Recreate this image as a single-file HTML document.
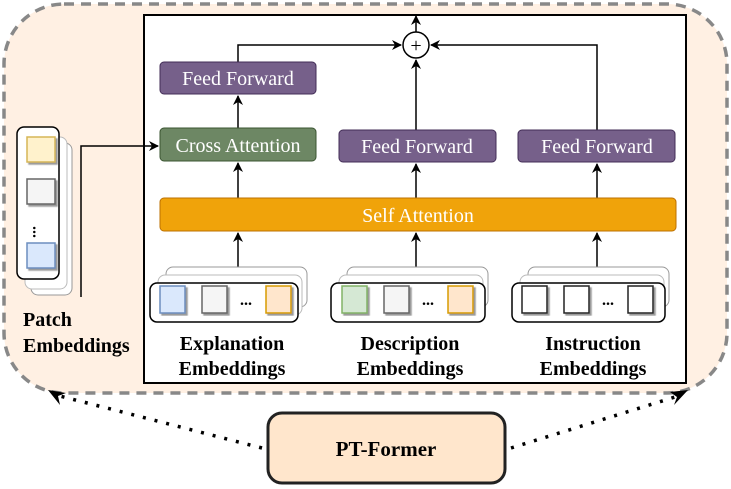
<!DOCTYPE html>
<html><head><style>body{margin:0;background:#fff}svg{display:block}text{font-family:"Liberation Serif",serif}</style></head><body>
<svg width="731" height="489" viewBox="0 0 731 489" xmlns="http://www.w3.org/2000/svg">
<defs>
<marker id="a" markerWidth="10" markerHeight="10" refX="9" refY="5" orient="auto" markerUnits="userSpaceOnUse"><path d="M0,0 L10,5 L0,10 L3,5Z" fill="#000"/></marker>
<filter id="s"><feDropShadow dx="2" dy="2" stdDeviation="0.5" flood-color="#999"/></filter>
</defs>
<rect x="4" y="4" width="723" height="389" rx="60" fill="#fff0e3" stroke="#888" stroke-width="3.5" stroke-dasharray="10,7"/>
<rect x="144" y="15" width="542" height="368" fill="#fff" stroke="#000" stroke-width="2"/>
<g stroke="#000" stroke-width="1.5" fill="none">
<path d="M238,62 V45 H401" marker-end="url(#a)"/>
<path d="M597,130 V45 H431" marker-end="url(#a)"/>
<path d="M416,130 V60" marker-end="url(#a)"/>
<path d="M416,32 V16" marker-end="url(#a)"/>
<path d="M238,128 V96" marker-end="url(#a)"/>
<path d="M238,198 V163" marker-end="url(#a)"/>
<path d="M416,198 V164" marker-end="url(#a)"/>
<path d="M597,198 V164" marker-end="url(#a)"/>
<path d="M238,268 V233" marker-end="url(#a)"/>
<path d="M416,268 V233" marker-end="url(#a)"/>
<path d="M597,268 V233" marker-end="url(#a)"/>
<path d="M81,297 V146 H158" marker-end="url(#a)"/>
</g>
<circle cx="416" cy="45" r="13" fill="#fff" stroke="#000" stroke-width="1.5"/>
<text x="416" y="52" font-size="20" text-anchor="middle">+</text>
<g font-size="20" fill="#fff" text-anchor="middle">
<rect x="160" y="62" width="156" height="32" rx="4" fill="#76608a" stroke="#432d57"/><text x="238" y="85">Feed Forward</text>
<rect x="160" y="128" width="156" height="33" rx="4" fill="#6d8764" stroke="#3a5431"/><text x="238" y="152">Cross Attention</text>
<rect x="339" y="130" width="157" height="32" rx="4" fill="#76608a" stroke="#432d57"/><text x="417" y="153">Feed Forward</text>
<rect x="518" y="130" width="157" height="32" rx="4" fill="#76608a" stroke="#432d57"/><text x="597" y="153">Feed Forward</text>
<rect x="160" y="198" width="516" height="33" rx="4" fill="#f0a30a" stroke="#bd7000"/><text x="418" y="222">Self Attention</text>
</g>
<rect x="166" y="267" width="141" height="40" rx="7" fill="#fff" stroke="#999"/>
<rect x="158" y="275" width="144" height="40" rx="7" fill="#fff" stroke="#bbb"/>
<rect x="150" y="283" width="148" height="39" rx="7" fill="#fff" stroke="#000" stroke-width="1.5"/>
<g stroke-width="1.5" filter="url(#s)">
<rect x="160" y="286" width="25" height="27" fill="#dae8fc" stroke="#6c8ebf"/>
<rect x="202" y="286" width="25" height="27" fill="#f5f5f5" stroke="#666"/>
<rect x="266" y="286" width="25" height="27" fill="#ffe6cc" stroke="#d79b00"/>
</g>
<text x="246" y="305" font-size="16" font-weight="bold" text-anchor="middle">...</text>
<rect x="347" y="267" width="141" height="40" rx="7" fill="#fff" stroke="#999"/>
<rect x="339" y="275" width="144" height="40" rx="7" fill="#fff" stroke="#bbb"/>
<rect x="331" y="283" width="154" height="39" rx="7" fill="#fff" stroke="#000" stroke-width="1.5"/>
<g stroke-width="1.5" filter="url(#s)">
<rect x="342" y="286" width="25" height="27" fill="#d5e8d4" stroke="#82b366"/>
<rect x="384" y="286" width="25" height="27" fill="#f5f5f5" stroke="#666"/>
<rect x="448" y="286" width="25" height="27" fill="#ffe6cc" stroke="#d79b00"/>
</g>
<text x="428" y="305" font-size="16" font-weight="bold" text-anchor="middle">...</text>
<rect x="528" y="267" width="141" height="40" rx="7" fill="#fff" stroke="#999"/>
<rect x="520" y="275" width="144" height="40" rx="7" fill="#fff" stroke="#bbb"/>
<rect x="512" y="283" width="153" height="39" rx="7" fill="#fff" stroke="#000" stroke-width="1.5"/>
<g stroke-width="1.5" filter="url(#s)" fill="#fff" stroke="#222">
<rect x="522" y="286" width="25" height="27"/>
<rect x="564" y="286" width="25" height="27"/>
<rect x="628" y="286" width="25" height="27"/>
</g>
<text x="608" y="305" font-size="16" font-weight="bold" text-anchor="middle">...</text>
<g font-size="20" font-weight="bold" text-anchor="middle">
<text x="232" y="350">Explanation</text><text x="232" y="375">Embeddings</text>
<text x="410" y="350">Description</text><text x="410" y="375">Embeddings</text>
<text x="593" y="350">Instruction</text><text x="593" y="375">Embeddings</text>
<text x="23" y="326" text-anchor="start">Patch</text><text x="23" y="352" text-anchor="start">Embeddings</text>
</g>
<rect x="31" y="143" width="41" height="152" rx="7" fill="#fff" stroke="#999"/>
<rect x="25" y="137" width="42" height="152" rx="7" fill="#fff" stroke="#bbb"/>
<rect x="17" y="127" width="42" height="152" rx="7" fill="#fff" stroke="#000" stroke-width="1.5"/>
<g stroke-width="1.5" filter="url(#s)">
<rect x="27" y="137" width="28" height="25" fill="#fff2cc" stroke="#d6b656"/>
<rect x="27" y="179" width="28" height="25" fill="#f5f5f5" stroke="#666"/>
<rect x="27" y="243" width="28" height="25" fill="#dae8fc" stroke="#6c8ebf"/>
</g>
<text x="37" y="230" font-size="16" font-weight="bold" transform="rotate(90 37 226)">...</text>
<rect x="268" y="413" width="237" height="70" rx="14" fill="#ffe6cc" stroke="#222" stroke-width="3"/>
<text x="386" y="456" font-size="21" font-weight="bold" text-anchor="middle">PT-Former</text>
<g stroke="#000" stroke-width="3.5" stroke-dasharray="3,9" fill="none">
<path d="M262,448 L60,396"/><path d="M511,448 L675,397"/>
</g>
<path d="M48,390 L66,393 L58,396 L60,405Z" fill="#000"/>
<path d="M688,390 L670,392 L677,397 L674,405Z" fill="#000"/>
</svg>
</body></html>
